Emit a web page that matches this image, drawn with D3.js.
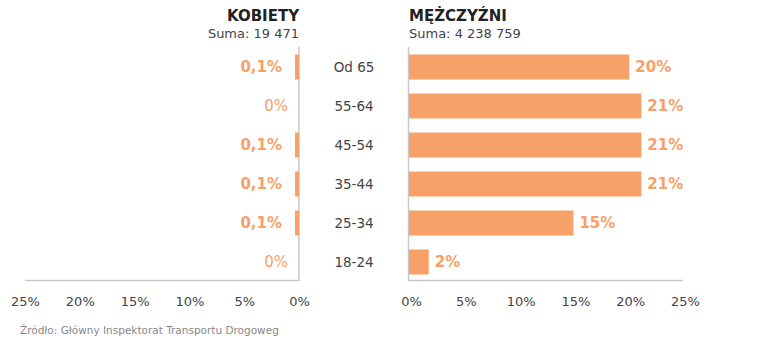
<!DOCTYPE html>
<html><head><meta charset="utf-8">
<script src="https://cdn.jsdelivr.net/npm/d3@7"></script>
<style>body{margin:0;background:#fff}svg{display:block}text{font-family:"DejaVu Sans",sans-serif}</style>
</head><body><svg id="c" width="757" height="355"></svg>
<script>
const categories = ["Od 65","55-64","45-54","35-44","25-34","18-24"];
const women = [0.1,0,0.1,0.1,0.1,0];
const womenLabels = ["0,1%","0%","0,1%","0,1%","0,1%","0%"];
const men = [20.1,21.2,21.2,21.2,15.0,1.8];
const menLabels = ["20%","21%","21%","21%","15%","2%"];
const ticks = [0,5,10,15,20,25];
const titles = ["KOBIETY","MĘŻCZYŹNI"];
const sums = ["Suma: 19 471","Suma: 4 238 759"];
const source = "Źródło: Główny Inspektorat Transportu Drogoweg";

const orange = "#F7A068", axisCol = "#c8c8c8", textCol = "#444";
const svg = d3.select("#c");
const y = d3.scaleBand().domain(categories).range([47.5,281.5]).paddingInner(0.36).paddingOuter(0.18);
const xL = d3.scaleLinear().domain([25,0]).range([25,299]);
const xR = d3.scaleLinear().domain([0,25]).range([409,683]);

svg.append("line").attr("x1",xL(25)).attr("x2",xL(0)).attr("y1",280.5).attr("y2",280.5).attr("stroke",axisCol).attr("stroke-width",1.5);
svg.append("line").attr("x1",xL(0)).attr("x2",xL(0)).attr("y1",47).attr("y2",281).attr("stroke",axisCol).attr("stroke-width",1.5);
svg.append("line").attr("x1",xR(0)).attr("x2",xR(25)).attr("y1",280.5).attr("y2",280.5).attr("stroke",axisCol).attr("stroke-width",1.5);
svg.append("line").attr("x1",xR(0)-0.5).attr("x2",xR(0)-0.5).attr("y1",47).attr("y2",281).attr("stroke",axisCol).attr("stroke-width",1.5);

const fmt = d => d + "%";
svg.append("g").attr("transform","translate(0,281)").call(d3.axisBottom(xL).tickValues(ticks).tickFormat(fmt).tickSize(0).tickPadding(16))
  .call(g=>{g.select(".domain").remove();g.selectAll("text").attr("font-size",13).attr("fill",textCol).attr("font-family",null);});
svg.append("g").attr("transform","translate(2,281)").call(d3.axisBottom(xR).tickValues(ticks).tickFormat(fmt).tickSize(0).tickPadding(16))
  .call(g=>{g.select(".domain").remove();g.selectAll("text").attr("font-size",13).attr("fill",textCol).attr("font-family",null);});

const minW = 4;
svg.selectAll(".wb").data(women).join("rect")
  .attr("x",d=> d>0 ? xL(0)-Math.max(xL(0)-xL(d),minW) : xL(0))
  .attr("width",d=> d>0 ? Math.max(xL(0)-xL(d),minW) : 0)
  .attr("y",(d,i)=>y(categories[i])).attr("height",y.bandwidth()).attr("fill",orange);
svg.selectAll(".wl").data(women).join("text")
  .attr("x",d=> d>0 ? xL(0)-Math.max(xL(0)-xL(d),minW)-13 : xL(0)-11)
  .attr("y",(d,i)=>y(categories[i])+y.bandwidth()/2).attr("dy","0.36em")
  .attr("text-anchor","end").attr("font-size",15).attr("font-weight",d=>d>0?700:400)
  .attr("fill",orange).text((d,i)=>womenLabels[i]);

svg.selectAll(".mb").data(men).join("rect")
  .attr("x",xR(0)).attr("width",d=>xR(d)-xR(0))
  .attr("y",(d,i)=>y(categories[i])).attr("height",y.bandwidth()).attr("fill",orange);
svg.selectAll(".ml").data(men).join("text")
  .attr("x",d=>xR(d)+6)
  .attr("y",(d,i)=>y(categories[i])+y.bandwidth()/2).attr("dy","0.36em")
  .attr("font-size",15).attr("font-weight",700)
  .attr("fill",orange).text((d,i)=>menLabels[i]);

svg.selectAll(".cl").data(categories).join("text")
  .attr("x",354).attr("y",d=>y(d)+y.bandwidth()/2).attr("dy","0.36em")
  .attr("text-anchor","middle").attr("font-size",13.5).attr("fill",textCol).text(d=>d);

svg.append("text").attr("x",299).attr("y",21).attr("text-anchor","end").attr("font-size",15).attr("font-weight",700).attr("fill","#222").text(titles[0]);
svg.append("text").attr("x",299).attr("y",38).attr("text-anchor","end").attr("font-size",13).attr("fill",textCol).text(sums[0]);
svg.append("text").attr("x",409).attr("y",21).attr("font-size",15).attr("font-weight",700).attr("fill","#222").text(titles[1]);
svg.append("text").attr("x",409).attr("y",38).attr("font-size",13).attr("fill",textCol).text(sums[1]);

svg.append("text").attr("x",20).attr("y",334).attr("font-size",10.5).attr("fill","#888").text(source);
</script></body></html>
